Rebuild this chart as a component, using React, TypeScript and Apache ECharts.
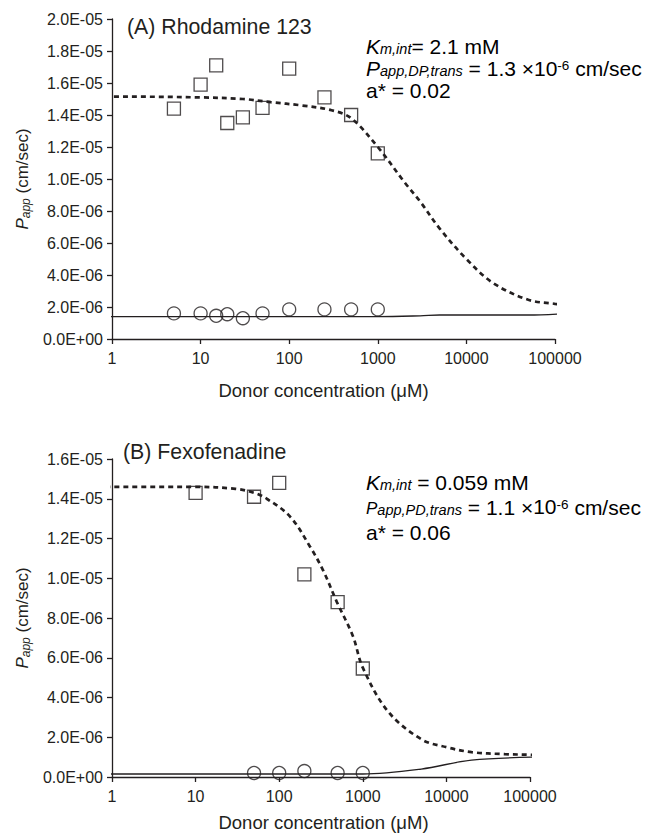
import React, { useEffect, useRef } from "react";
import * as echarts from "echarts";

// ---- Data (y values in units of 1e-6 cm/sec) ----
// Panel A: Rhodamine 123
const rhoConc = [5, 10, 15, 20, 30, 50, 100, 250, 500, 1000];
const rhoSquares = [14.4, 15.9, 17.1, 13.5, 13.85, 14.45, 16.9, 15.1, 14.0, 11.6];
const rhoCircles = [1.6, 1.6, 1.45, 1.55, 1.3, 1.6, 1.85, 1.85, 1.85, 1.85];
const rhoFitX = [0.83, 1, 10, 30, 62, 137, 300, 500, 1000, 2000, 3000, 5000, 10000, 20000, 50000, 100000, 140000];
const rhoFitY = [15.15, 15.15, 15.1, 15.0, 14.8, 14.6, 14.3, 13.8, 12.0, 9.8, 8.6, 6.9, 5.0, 3.5, 2.45, 2.2, 2.1];
const rhoBaseX = [0.83, 1000, 3000, 5000, 50000, 140000];
const rhoBaseY = [1.4, 1.4, 1.45, 1.5, 1.5, 1.6];

// Panel B: Fexofenadine
const fexSqConc = [10, 50, 100, 200, 500, 1000];
const fexSquares = [14.3, 14.1, 14.8, 10.2, 8.8, 5.46];
const fexCircConc = [50, 100, 200, 500, 1000];
const fexCircles = [0.2, 0.2, 0.3, 0.2, 0.2];
const fexFitX = [0.83, 1, 10, 30, 50, 71, 135, 233, 335, 490, 760, 1000, 2000, 5000, 10000, 20000, 50000, 100000, 125000];
const fexFitY = [14.6, 14.6, 14.6, 14.5, 14.3, 14.0, 13.1, 11.6, 10.4, 8.8, 7.1, 5.5, 3.3, 1.9, 1.5, 1.25, 1.15, 1.12, 1.1];
const fexBaseX = [0.83, 1000, 5000, 20000, 125000];
const fexBaseY = [0.15, 0.15, 0.4, 0.85, 1.0];

const FONT = "'Liberation Sans', Arial, sans-serif";
const INK = "#231f20";

const zip = (xs: number[], ys: number[]) => xs.map((x, i) => [x, ys[i]]);

const fmtY = (v: number) => {
  const s = (v * 1e-6).toExponential(1);
  const [m, e] = s.split("e");
  const n = parseInt(e, 10);
  return m + "E" + (n < 0 ? "-" : "+") + String(Math.abs(n)).padStart(2, "0");
};

const richAnn = {
  n: { fontSize: 21, fontFamily: FONT, color: INK, lineHeight: 20, verticalAlign: "middle" },
  it: { fontSize: 21, fontFamily: FONT, color: INK, fontStyle: "italic", lineHeight: 20, verticalAlign: "middle" },
  psm: { fontSize: 17, fontFamily: FONT, color: INK, fontStyle: "italic", lineHeight: 17, verticalAlign: "bottom" },
  sub: { fontSize: 14.5, fontFamily: FONT, color: INK, fontStyle: "italic", lineHeight: 13, verticalAlign: "bottom" },
  sup: { fontSize: 13.5, fontFamily: FONT, color: INK, lineHeight: 12, verticalAlign: "top" },
  low: { fontSize: 21, fontFamily: FONT, color: INK, lineHeight: 18, verticalAlign: "bottom" },
};

export default function App() {
  const ref = useRef<HTMLDivElement>(null);
  useEffect(() => {
    if (!ref.current) return;
    const chart = echarts.init(ref.current, undefined, { renderer: "svg" });

    const xAxisBase = (gridIndex: number) => ({
      type: "log",
      logBase: 10,
      gridIndex,
      min: 1,
      max: 100000,
      name: "Donor concentration (\u03bcM)",
      nameLocation: "middle",
      nameGap: gridIndex === 0 ? 42 : 36,
      nameTextStyle: {
        fontSize: 18.5,
        fontFamily: FONT,
        color: INK,
        verticalAlign: "top",
        padding: gridIndex === 0 ? [0, 20, 0, 0] : [0, 0, 0, 5],
      },
      axisLine: { show: true, onZero: false, lineStyle: { color: INK, width: 1.3 } },
      axisTick: { show: true, inside: false, length: 5, lineStyle: { color: INK, width: 1.3 } },
      minorTick: { show: false },
      splitLine: { show: false },
      axisLabel: {
        fontSize: 16,
        fontFamily: FONT,
        color: INK,
        margin: 11,
        formatter: (v: number) => String(Math.round(v)),
      },
    });

    const yAxisBase = (gridIndex: number, max: number) => ({
      type: "value",
      gridIndex,
      min: 0,
      max,
      interval: 2,
      name: "{i|P}{s|app}{n| (cm/sec)}",
      nameLocation: "middle",
      nameGap: 80,
      nameTextStyle: {
        rich: {
          i: { fontSize: 17, fontFamily: FONT, color: INK, fontStyle: "italic", lineHeight: 20, verticalAlign: "middle" },
          s: { fontSize: 12, fontFamily: FONT, color: INK, fontStyle: "italic", lineHeight: 12, verticalAlign: "bottom" },
          n: { fontSize: 17, fontFamily: FONT, color: INK, lineHeight: 20, verticalAlign: "middle" },
        },
      },
      axisLine: { show: true, lineStyle: { color: INK, width: 1.3 } },
      axisTick: { show: true, inside: false, length: 5, lineStyle: { color: INK, width: 1.3 } },
      splitLine: { show: false },
      axisLabel: {
        fontSize: 16,
        fontFamily: FONT,
        color: INK,
        margin: 9,
        formatter: fmtY,
      },
    });

    const fitStyle = { color: INK, width: 2.7, type: [5, 4] as any };
    const baseStyle = { color: INK, width: 1.3, type: "solid" };
    const sq = { color: "transparent", borderColor: INK, borderWidth: 1.3 };
    const lineCommon = { type: "line", showSymbol: false, symbol: "none", smooth: 0.35, clip: false, z: 3 };

    const option: any = {
      animation: false,
      backgroundColor: "#fff",
      grid: [
        { left: 112, top: 19, width: 443, height: 320 },
        { left: 112, top: 459, width: 418, height: 319 },
      ],
      xAxis: [xAxisBase(0), xAxisBase(1)],
      yAxis: [yAxisBase(0, 20), yAxisBase(1, 16)],
      series: [
        { ...lineCommon, xAxisIndex: 0, yAxisIndex: 0, data: zip(rhoFitX, rhoFitY), lineStyle: fitStyle },
        { ...lineCommon, xAxisIndex: 0, yAxisIndex: 0, data: zip(rhoBaseX, rhoBaseY), lineStyle: baseStyle },
        { type: "scatter", xAxisIndex: 0, yAxisIndex: 0, data: zip(rhoConc, rhoSquares), symbol: "rect", symbolSize: 13, itemStyle: sq, z: 4 },
        { type: "scatter", xAxisIndex: 0, yAxisIndex: 0, data: zip(rhoConc, rhoCircles), symbol: "circle", symbolSize: 13, itemStyle: sq, z: 4 },
        { ...lineCommon, xAxisIndex: 1, yAxisIndex: 1, data: zip(fexFitX, fexFitY), lineStyle: fitStyle },
        { ...lineCommon, xAxisIndex: 1, yAxisIndex: 1, data: zip(fexBaseX, fexBaseY), lineStyle: baseStyle },
        { type: "scatter", xAxisIndex: 1, yAxisIndex: 1, data: zip(fexSqConc, fexSquares), symbol: "rect", symbolSize: 13, itemStyle: sq, z: 4 },
        { type: "scatter", xAxisIndex: 1, yAxisIndex: 1, data: zip(fexCircConc, fexCircles), symbol: "circle", symbolSize: 13, itemStyle: sq, z: 4 },
      ],
      graphic: [
        { type: "text", x: 127, y: 27, style: { text: "(A) Rhodamine 123", fontSize: 21.3, fontFamily: FONT, fill: INK, verticalAlign: "middle" } },
        { type: "text", x: 366, y: 46, style: { text: "{it|K}{sub|m,int}{n|= 2.1 mM}", rich: richAnn, verticalAlign: "middle" } },
        { type: "text", x: 366, y: 68, style: { text: "{it|P}{sub|app,DP,trans}{n| = 1.3 \u00d710}{sup|-6}{n| cm/sec}", rich: richAnn, verticalAlign: "middle" } },
        { type: "text", x: 366, y: 90, style: { text: "{n|a* = 0.02}", rich: richAnn, verticalAlign: "middle" } },
        { type: "text", x: 123, y: 452, style: { text: "(B) Fexofenadine", fontSize: 21.3, fontFamily: FONT, fill: INK, verticalAlign: "middle" } },
        { type: "text", x: 366, y: 482, style: { text: "{it|K}{sub|m,int}{n| = 0.059 mM}", rich: richAnn, verticalAlign: "middle" } },
        { type: "text", x: 366, y: 507, style: { text: "{psm|P}{sub|app,PD,trans}{n| = 1.1 \u00d7}{low|10}{sup|-6}{n| cm/sec}", rich: richAnn, verticalAlign: "middle" } },
        { type: "text", x: 366, y: 532, style: { text: "{n|a* = 0.06}", rich: richAnn, verticalAlign: "middle" } },
      ],
    };
    chart.setOption(option);
    return () => chart.dispose();
  }, []);

  return (
    <div
      ref={ref}
      style={{ position: "absolute", left: 0, top: 0, width: 649, height: 833, background: "#fff" }}
    />
  );
}
